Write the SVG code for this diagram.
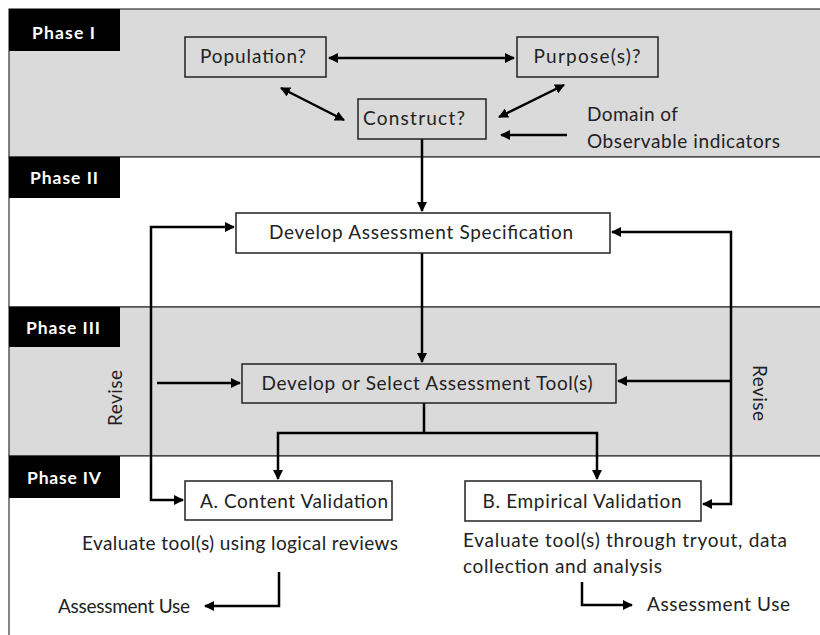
<svg xmlns="http://www.w3.org/2000/svg" width="820" height="635" viewBox="0 0 820 635">
<style>
.band{stroke:#333;stroke-width:1.2}
.lbl{fill:#000}
.ph{font-family:Lato,"Open Sans","Liberation Sans",sans-serif;font-weight:bold;font-size:17.5px;fill:#fff}
.box{fill:none;stroke:#222;stroke-width:1.5}
.t{font-family:Lato,"Open Sans","Liberation Sans",sans-serif;font-size:19px;fill:#222}
.c{fill:none;stroke:#000;stroke-width:2.5}
</style>
<defs>
<marker id="ah" viewBox="0 0 10 10" refX="9" refY="5" markerWidth="4" markerHeight="4" orient="auto-start-reverse" markerUnits="strokeWidth">
<path d="M0,0 L10,5 L0,10 z" fill="#000"/>
</marker>
</defs>
<rect width="820" height="635" fill="#fff"/>
<g id="bands">
<rect x="9" y="9" width="820" height="148" fill="#dadada" class="band"/>
<rect x="9" y="157" width="820" height="150" fill="#fff" class="band"/>
<rect x="9" y="307" width="820" height="149" fill="#dadada" class="band"/>
<rect x="9" y="456" width="820" height="200" fill="#fff" class="band"/>
</g>
<g id="phase1"><rect x="9" y="9" width="111" height="42" class="lbl"/><text x="32" y="39" class="ph" textLength="63">Phase I</text></g>
<g id="phase2"><rect x="9" y="157" width="111" height="41" class="lbl"/><text x="30" y="184" class="ph" textLength="68">Phase II</text></g>
<g id="phase3"><rect x="9" y="307" width="111" height="40" class="lbl"/><text x="26" y="334" class="ph" textLength="74">Phase III</text></g>
<g id="phase4"><rect x="9" y="456" width="111" height="42" class="lbl"/><text x="27" y="484" class="ph" textLength="74">Phase IV</text></g>

<g id="connectors">
<line x1="329" y1="58" x2="514" y2="58" class="c" marker-start="url(#ah)" marker-end="url(#ah)"/>
<line x1="281" y1="88" x2="344" y2="120" class="c" marker-start="url(#ah)" marker-end="url(#ah)"/>
<line x1="564" y1="85" x2="499" y2="117" class="c" marker-start="url(#ah)" marker-end="url(#ah)"/>
<line x1="567" y1="135" x2="501" y2="135" class="c" marker-end="url(#ah)"/>
<line x1="422" y1="139" x2="422" y2="211" class="c" marker-end="url(#ah)"/>
<line x1="422" y1="253" x2="422" y2="362" class="c" marker-end="url(#ah)"/>
<polyline points="234,227 151,227 151,500 183,500" class="c" marker-start="url(#ah)" marker-end="url(#ah)"/>
<line x1="157" y1="383" x2="240" y2="383" class="c" marker-end="url(#ah)"/>
<polyline points="612,232 731,232 731,504 703,504" class="c" marker-start="url(#ah)" marker-end="url(#ah)"/>
<line x1="731" y1="381" x2="618" y2="381" class="c" marker-end="url(#ah)"/>
<line x1="424" y1="403" x2="424" y2="433" class="c"/>
<polyline points="278,479 278,433 597,433 597,479" class="c" marker-start="url(#ah)" marker-end="url(#ah)"/>
<polyline points="279,572 279,606 205,606" class="c" marker-end="url(#ah)"/>
<polyline points="582,582 582,605 632,605" class="c" marker-end="url(#ah)"/>
</g>

<g id="population"><rect x="185" y="37" width="141" height="40" class="box"/><text x="253" y="63" class="t" text-anchor="middle" textLength="106">Population?</text></g>
<g id="purpose"><rect x="517" y="37" width="141" height="40" class="box"/><text x="587" y="63" class="t" text-anchor="middle" textLength="107">Purpose(s)?</text></g>
<g id="construct"><rect x="358" y="99" width="128" height="40" class="box"/><text x="414" y="125" class="t" text-anchor="middle" textLength="102">Construct?</text></g>
<g id="domain"><text x="587" y="121" class="t" textLength="91">Domain of</text><text x="587" y="148" class="t" textLength="193">Observable indicators</text></g>
<g id="spec"><rect x="236" y="213" width="374" height="40" class="box"/><text x="421" y="239" class="t" text-anchor="middle" textLength="304">Develop Assessment Specification</text></g>
<g id="tool"><rect x="242" y="364" width="374" height="39" class="box"/><text x="427" y="390" class="t" text-anchor="middle" textLength="331">Develop or Select Assessment Tool(s)</text></g>
<g id="contentval"><rect x="185" y="481" width="207" height="39" class="box"/><text x="294" y="508" class="t" text-anchor="middle" textLength="188">A. Content Validation</text></g>
<g id="empiricalval"><rect x="465" y="481" width="236" height="40" class="box"/><text x="582" y="508" class="t" text-anchor="middle" textLength="199">B. Empirical Validation</text></g>
<g id="evalA"><text x="82" y="550" class="t" textLength="316">Evaluate tool(s) using logical reviews</text></g>
<g id="evalB"><text x="463" y="547" class="t" textLength="324">Evaluate tool(s) through tryout, data</text><text x="463" y="573" class="t" textLength="199">collection and analysis</text></g>
<g id="useA"><text x="58" y="613" class="t" textLength="132">Assessment Use</text></g>
<g id="useB"><text x="647" y="611" class="t" textLength="143">Assessment Use</text></g>
<g id="reviseL"><text x="122" y="398" class="t" text-anchor="middle" transform="rotate(-90 122 398)" textLength="56">Revise</text></g>
<g id="reviseR"><text x="753" y="393" class="t" text-anchor="middle" transform="rotate(90 753 393)" textLength="56">Revise</text></g>
</svg>
